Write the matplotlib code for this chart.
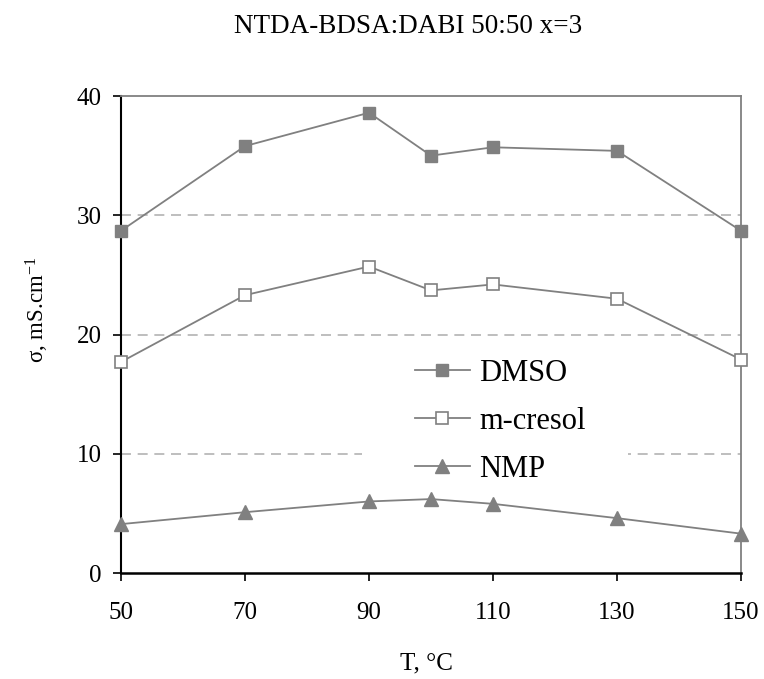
import matplotlib
matplotlib.use("Agg")
import matplotlib.pyplot as plt
from matplotlib.patches import Rectangle

plt.rcParams['font.family'] = ['Liberation Serif', 'DejaVu Serif']
plt.rcParams['mathtext.fontset'] = 'custom'
plt.rcParams['mathtext.rm'] = 'Liberation Serif'
plt.rcParams['mathtext.default'] = 'rm'

# temperatura, °C
T = [50, 70, 90, 100, 110, 130, 150]
dmso = [28.7, 35.8, 38.6, 35.0, 35.7, 35.4, 28.7]
m_cresol = [17.7, 23.3, 25.7, 23.7, 24.2, 23.0, 17.9]
nmp = [4.1, 5.1, 6.0, 6.2, 5.8, 4.6, 3.3]

x_ticks = [50, 70, 90, 110, 130, 150]
y_ticks = [0, 10, 20, 30, 40]

GRAY = '#808080'
W, H = 764, 679

fig = plt.figure(figsize=(W / 100, H / 100), dpi=100)
ax = fig.add_axes([0.1584, 0.1561, 0.8115, 0.7025])

# siatka tylko na 10, 20, 30
for yv in y_ticks[1:-1]:
    ax.axhline(yv, color='#b3b3b3', linewidth=1.2, linestyle=(0, (6, 4)), zorder=0.5)

# biale tlo legendy zaslaniajace siatke
ax.add_patch(Rectangle((0.389, 0.174), 0.429, 0.30, transform=ax.transAxes,
                       facecolor='white', edgecolor='none', zorder=1))

ax.plot(T, dmso, color=GRAY, linewidth=1.3, marker='s', markersize=8.5,
        markerfacecolor=GRAY, markeredgecolor=GRAY, label='DMSO', zorder=3, clip_on=False)
ax.plot(T, m_cresol, color=GRAY, linewidth=1.3, marker='s', markersize=8.5,
        markerfacecolor='white', markeredgecolor=GRAY, markeredgewidth=1.2,
        label='m-cresol', zorder=3, clip_on=False)
ax.plot(T, nmp, color=GRAY, linewidth=1.3, marker='^', markersize=10,
        markerfacecolor=GRAY, markeredgecolor=GRAY, label='NMP', zorder=3, clip_on=False)

ax.set_xlim(50, 150)
ax.set_ylim(0, 40)
ax.set_xticks(x_ticks)
ax.set_yticks(y_ticks)
ax.tick_params(axis='both', direction='out', length=6, width=1.2, labelsize=18)
ax.tick_params(axis='x', pad=15)
ax.tick_params(axis='y', pad=8)

ax.spines['left'].set_color('black')
ax.spines['left'].set_linewidth(1.5)
ax.spines['bottom'].set_color('black')
ax.spines['bottom'].set_linewidth(1.8)
ax.spines['top'].set_color(GRAY)
ax.spines['top'].set_linewidth(1.3)
ax.spines['right'].set_color(GRAY)
ax.spines['right'].set_linewidth(1.3)

# opisy osi i tytul
fig.text(426 / W, 1 - 663 / H, 'T, °C', ha='center', va='center', fontsize=18)
fig.text(37 / W, 1 - 310 / H, r'σ, mS.cm$^{-1}$', ha='center', va='center',
         rotation=90, fontsize=16.5)
fig.text(408 / W, 1 - 33 / H, 'NTDA-BDSA:DABI 50:50 x=3', ha='center', va='baseline',
         fontsize=19.5)

leg = ax.legend(loc='upper left', bbox_to_anchor=(0.474, 0.449), frameon=False,
                fontsize=22, borderaxespad=0, borderpad=0, handlelength=1.8,
                handletextpad=0.3, labelspacing=0.62)

fig.savefig('out.png', dpi=100)
